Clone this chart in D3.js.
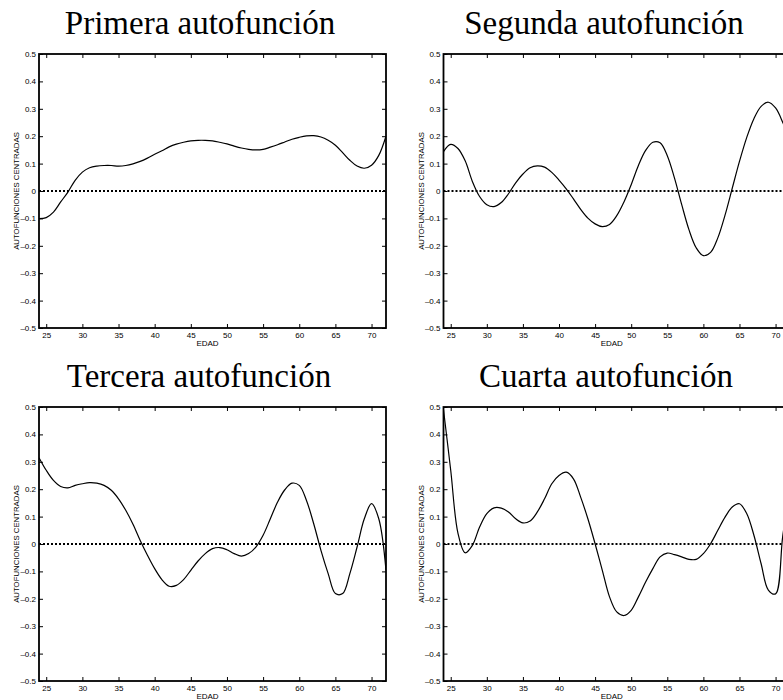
<!DOCTYPE html>
<html>
<head>
<meta charset="utf-8">
<script src="https://cdn.jsdelivr.net/npm/d3@7"></script>
<style>
  body { margin: 0; background: #fff; }
  svg { display: block; }
</style>
</head>
<body>
<div id="chart"></div>
<script>
var edad = [24, 25, 26, 27, 28, 29, 30, 31, 32, 33, 34, 35, 36, 37, 38, 39, 40, 41, 42, 43, 44, 45, 46, 47, 48,
            49, 50, 51, 52, 53, 54, 55, 56, 57, 58, 59, 60, 61, 62, 63, 64, 65, 66, 67, 68, 69, 70, 71, 72];

var primera = [-0.101, -0.097, -0.077, -0.040, -0.004, 0.039, 0.069, 0.085, 0.091, 0.093, 0.093, 0.091, 0.093,
               0.099, 0.108, 0.120, 0.134, 0.147, 0.161, 0.171, 0.178, 0.183, 0.185, 0.185, 0.183, 0.178,
               0.172, 0.164, 0.157, 0.152, 0.150, 0.152, 0.160, 0.169, 0.179, 0.189, 0.196, 0.201, 0.202,
               0.197, 0.185, 0.167, 0.140, 0.112, 0.091, 0.083, 0.094, 0.130, 0.200];

var segunda = [0.144, 0.170, 0.155, 0.110, 0.035, -0.020, -0.050, -0.057, -0.042, -0.010, 0.030, 0.062, 0.085,
               0.092, 0.087, 0.068, 0.040, 0.008, -0.029, -0.067, -0.099, -0.120, -0.130, -0.122, -0.090,
               -0.040, 0.023, 0.093, 0.148, 0.178, 0.176, 0.129, 0.047, -0.050, -0.141, -0.207, -0.236,
               -0.224, -0.171, -0.088, 0.010, 0.108, 0.195, 0.264, 0.309, 0.324, 0.303, 0.250, 0.180];

var tercera = [0.315, 0.269, 0.232, 0.210, 0.205, 0.214, 0.220, 0.224, 0.222, 0.214, 0.196, 0.165, 0.123,
               0.072, 0.013, -0.041, -0.090, -0.130, -0.154, -0.151, -0.130, -0.096, -0.062, -0.035, -0.017,
               -0.013, -0.021, -0.035, -0.044, -0.035, -0.011, 0.032, 0.092, 0.153, 0.198, 0.222, 0.214,
               0.159, 0.074, -0.023, -0.108, -0.181, -0.181, -0.108, -0.011, 0.092, 0.147, 0.092, -0.096];

var cuarta = [0.490, 0.269, 0.040, -0.032, -0.005, 0.062, 0.111, 0.132, 0.131, 0.117, 0.092, 0.077, 0.084,
              0.117, 0.165, 0.220, 0.250, 0.262, 0.238, 0.171, 0.092, 0.001, -0.096, -0.193, -0.248, -0.261,
              -0.242, -0.193, -0.139, -0.090, -0.047, -0.033, -0.039, -0.047, -0.056, -0.056, -0.035, 0.001,
              0.050, 0.098, 0.135, 0.147, 0.111, 0.032, -0.072, -0.168, -0.182, 0.030, 0.200];

var titulos = ['Primera autofunción', 'Segunda autofunción', 'Tercera autofunción', 'Cuarta autofunción'];
var xTicks = [25, 30, 35, 40, 45, 50, 55, 60, 65, 70];
var yTicks = [-0.5, -0.4, -0.3, -0.2, -0.1, 0, 0.1, 0.2, 0.3, 0.4, 0.5];

var series = [primera, segunda, tercera, cuarta];

// panel boxes: left, top, right, bottom
var panels = [
  {x0: 39, y0: 54, x1: 386, y1: 328, tx: 200},
  {x0: 443.5, y0: 54, x1: 790, y1: 328, tx: 604},
  {x0: 39, y0: 407, x1: 386, y1: 681, tx: 199},
  {x0: 443.5, y0: 407, x1: 790, y1: 681, tx: 606}
];

var svg = d3.select('#chart').append('svg')
  .attr('width', 783)
  .attr('height', 700);

function fmtY(d) {
  if (Math.abs(d) < 1e-9) return '0';
  return (d < 0 ? '\u2013' : '') + Math.abs(d).toFixed(1);
}

function drawPanel(i) {
  var p = panels[i];
  var x = d3.scaleLinear().domain([24, 72]).range([p.x0, p.x1]);
  var y = d3.scaleLinear().domain([-0.5, 0.5]).range([p.y1, p.y0]);
  var g = svg.append('g');

  g.append('clipPath').attr('id', 'clip' + i)
    .append('rect')
    .attr('x', p.x0).attr('y', p.y0)
    .attr('width', p.x1 - p.x0).attr('height', p.y1 - p.y0);

  // title
  g.append('text')
    .attr('x', p.tx)
    .attr('y', p.y0 - 20)
    .attr('text-anchor', 'middle')
    .style('font-family', '"Liberation Serif", "Times New Roman", serif')
    .style('font-size', '33px')
    .text(titulos[i]);

  // axes with inward ticks
  var axB = g.append('g').attr('transform', 'translate(0,' + p.y1 + ')')
    .call(d3.axisBottom(x).tickValues(xTicks).tickSize(-4).tickPadding(4));
  var axT = g.append('g').attr('transform', 'translate(0,' + p.y0 + ')')
    .call(d3.axisTop(x).tickValues(xTicks).tickSize(-4).tickFormat(''));
  var axL = g.append('g').attr('transform', 'translate(' + p.x0 + ',0)')
    .call(d3.axisLeft(y).tickValues(yTicks).tickSize(-4).tickPadding(3).tickFormat(fmtY));
  var axR = g.append('g').attr('transform', 'translate(' + p.x1 + ',0)')
    .call(d3.axisRight(y).tickValues(yTicks).tickSize(-4).tickFormat(''));

  [axB, axT, axL, axR].forEach(function(a) {
    a.select('.domain').remove();
    a.selectAll('line').attr('stroke', '#000').attr('stroke-width', 1);
    a.selectAll('text')
      .style('font-family', '"Liberation Sans", Arial, Helvetica, sans-serif')
      .style('font-size', '8px')
      .attr('fill', '#000');
  });

  // zero line
  g.append('line')
    .attr('clip-path', 'url(#clip' + i + ')')
    .attr('x1', x(24)).attr('x2', x(72))
    .attr('y1', y(0)).attr('y2', y(0))
    .attr('stroke', '#000')
    .attr('stroke-width', 2)
    .attr('stroke-dasharray', '2,2');

  // eigenfunction curve
  var line = d3.line()
    .x(function(d, k) { return x(edad[k]); })
    .y(function(d) { return y(d); })
    .curve(d3.curveCatmullRom.alpha(0.5));

  g.append('path')
    .datum(series[i])
    .attr('clip-path', 'url(#clip' + i + ')')
    .attr('d', line)
    .attr('fill', 'none')
    .attr('stroke', '#000')
    .attr('stroke-width', 1.2);

  // frame
  g.append('rect')
    .attr('x', p.x0).attr('y', p.y0)
    .attr('width', p.x1 - p.x0).attr('height', p.y1 - p.y0)
    .attr('fill', 'none')
    .attr('stroke', '#000')
    .attr('stroke-width', 1.8);

  // axis labels
  g.append('text')
    .attr('x', (p.x0 + p.x1) / 2 - 5)
    .attr('y', p.y1 + 18)
    .attr('text-anchor', 'middle')
    .style('font-family', '"Liberation Sans", Arial, Helvetica, sans-serif')
    .style('font-size', '8px')
    .text('EDAD');

  g.append('text')
    .attr('transform', 'translate(' + (p.x0 - 20) + ',' + y(0) + ') rotate(-90)')
    .attr('text-anchor', 'middle')
    .style('font-family', '"Liberation Sans", Arial, Helvetica, sans-serif')
    .style('font-size', '7.8px')
    .text('AUTOFUNCIONES CENTRADAS');
}

for (var i = 0; i < 4; i++) {
  drawPanel(i);
}
</script>
</body>
</html>
